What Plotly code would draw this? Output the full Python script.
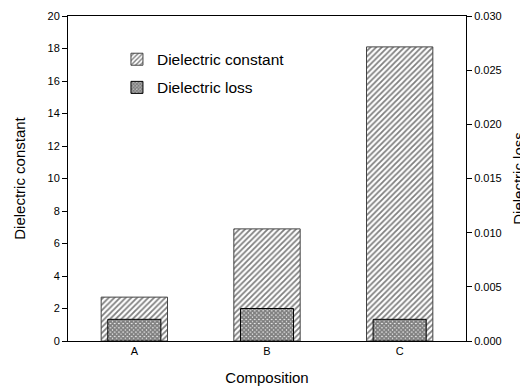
import plotly.graph_objects as go

categories = ["A", "B", "C"]
dielectric_constant = [2.7, 6.9, 18.1]
dielectric_loss = [0.0020, 0.0030, 0.0020]

font = "Liberation Sans, Arial, sans-serif"

fig = go.Figure()
fig.add_trace(go.Bar(
    x=categories, y=dielectric_constant, name="Dielectric constant",
    width=0.5, yaxis="y", legendgroup="c",
    marker=dict(color="white", line=dict(color="#444444", width=1),
                pattern=dict(shape="/", fgcolor="black", bgcolor="white",
                             size=4, solidity=0.45)),
))
fig.add_trace(go.Bar(
    x=categories, y=dielectric_loss, name="Dielectric loss",
    width=0.4, yaxis="y2", legendgroup="l",
    marker=dict(color="black", line=dict(color="black", width=1),
                pattern=dict(shape="x", fgcolor="black", bgcolor="white",
                             size=3, solidity=0.85)),
))

fig.update_layout(
    width=520, height=378,
    margin=dict(l=60, r=62, t=8, b=45, autoexpand=False),
    paper_bgcolor="white", plot_bgcolor="white",
    barmode="overlay",
    font=dict(family=font, size=11, color="black"),
    showlegend=True,
    legend=dict(x=0.123, y=0.918, xanchor="left", yanchor="top",
                bgcolor="rgba(0,0,0,0)", font=dict(size=15.5, family=font),
                traceorder="grouped", tracegroupgap=5),
    xaxis=dict(
        title=dict(text="Composition", font=dict(size=15), standoff=16),
        showline=True, linecolor="black", linewidth=1, mirror=True,
        ticks="", showgrid=False, range=[-0.5, 2.5],
        tickfont=dict(size=11), automargin=False,
    ),
    yaxis=dict(
        title=dict(text="Dielectric constant", font=dict(size=15), standoff=18),
        range=[0, 20], dtick=2, showline=True, linecolor="black", linewidth=1,
        ticks="outside", ticklen=5, tickcolor="black", showgrid=False,
        zeroline=False, tickfont=dict(size=11), automargin=False,
    ),
    yaxis2=dict(
        title=dict(text="Dielectric loss", font=dict(size=15), standoff=12),
        overlaying="y", side="right", range=[0, 0.03], dtick=0.005,
        tickformat=".3f", showline=True, linecolor="black", linewidth=1,
        ticks="outside", ticklen=5, tickcolor="black", showgrid=False,
        zeroline=False, tickfont=dict(size=11), automargin=False,
    ),
)

fig.write_html("out.html")
